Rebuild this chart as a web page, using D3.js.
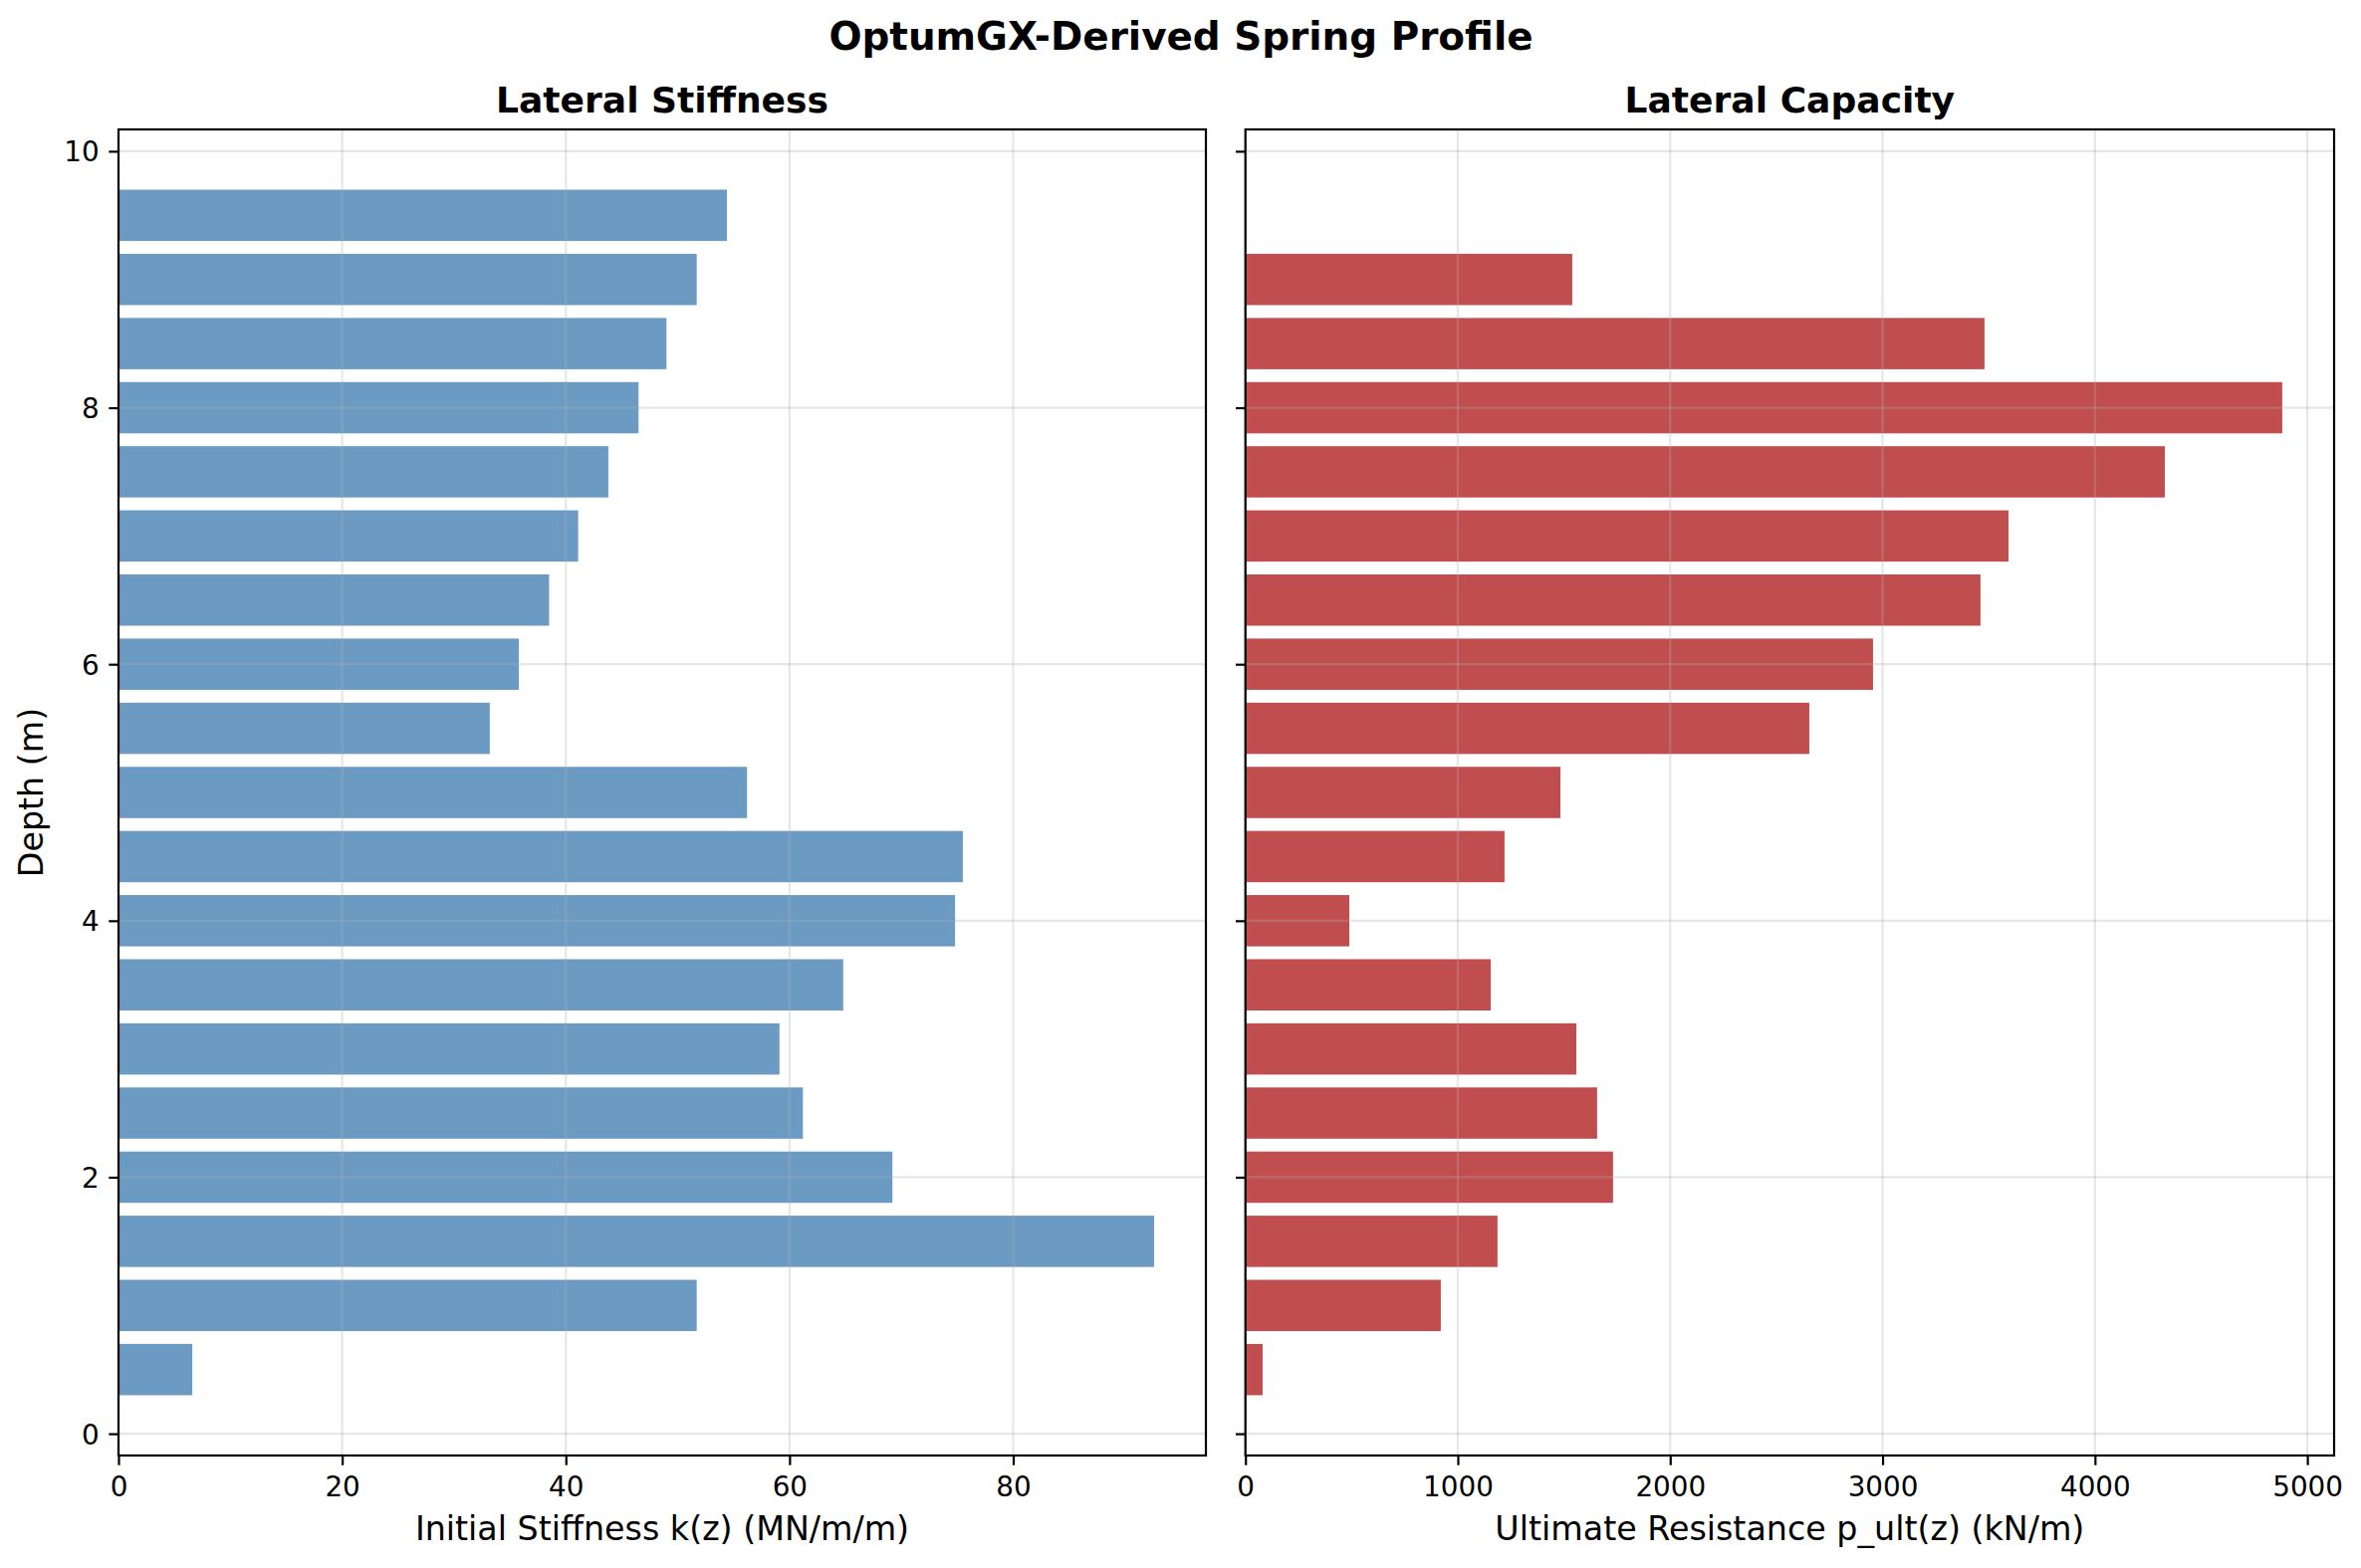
<!DOCTYPE html>
<html>
<head>
<meta charset="utf-8">
<script src="https://cdn.jsdelivr.net/npm/d3@7"></script>
<style>
  body { margin: 0; background: #fff; }
  svg text { font-family: "DejaVu Sans", sans-serif; fill: #000; }
</style>
</head>
<body>
<svg id="chart" width="2371" height="1575"></svg>
<script>
// depth of each spring (m)
var depths = [0.5, 1.0, 1.5, 2.0, 2.5, 3.0, 3.5, 4.0, 4.5, 5.0, 5.5, 6.0, 6.5, 7.0, 7.5, 8.0, 8.5, 9.0, 9.5];
// initial stiffness k(z) (MN/m/m)
var stiffness = [6.6, 51.7, 92.6, 69.2, 61.2, 59.1, 64.8, 74.8, 75.5, 56.2, 33.2, 35.8, 38.5, 41.1, 43.8, 46.5, 49.0, 51.7, 54.4];
// ultimate resistance p_ult(z) (kN/m)
var capacity = [81, 920, 1187, 1731, 1656, 1558, 1155, 489, 1220, 1483, 2655, 2955, 3461, 3593, 4329, 4882, 3480, 1539, 0];

var stiffTicks = [0, 20, 40, 60, 80];
var capTicks = [0, 1000, 2000, 3000, 4000, 5000];
var depthTicks = [0, 2, 4, 6, 8, 10];

var svg = d3.select("#chart");
var top_ = 130, bottom_ = 1462;
var barH = 0.4;

// shared depth scale, matplotlib style 5% margin around the bar extents
var yLo = d3.min(depths) - barH / 2, yHi = d3.max(depths) + barH / 2;
var pad = (yHi - yLo) * 0.05;
var y = d3.scaleLinear().domain([yLo - pad, yHi + pad]).range([bottom_, top_]);

svg.append("text")
    .attr("x", 1186).attr("y", 50)
    .attr("text-anchor", "middle")
    .style("font-size", "38.9px").style("font-weight", "bold")
    .text("OptumGX-Derived Spring Profile");

function panel(left, right, values, ticks, color, title, xlabel, showYLabels) {
    var x = d3.scaleLinear().domain([0, d3.max(values) * 1.05]).range([left, right]);
    var g = svg.append("g");

    g.selectAll("rect.bar").data(values).enter().append("rect")
        .attr("class", "bar")
        .attr("x", x(0))
        .attr("y", function(d, i) { return y(depths[i] + barH / 2); })
        .attr("width", function(d) { return x(d) - x(0); })
        .attr("height", function(d, i) { return y(depths[i] - barH / 2) - y(depths[i] + barH / 2); })
        .attr("fill", color).attr("fill-opacity", 0.8);

    // grid (drawn above the bars, like matplotlib)
    g.selectAll("line.gx").data(ticks).enter().append("line")
        .attr("x1", function(d) { return x(d); }).attr("x2", function(d) { return x(d); })
        .attr("y1", top_).attr("y2", bottom_)
        .attr("stroke", "#b0b0b0").attr("stroke-opacity", 0.3).attr("stroke-width", 2.2);
    g.selectAll("line.gy").data(depthTicks).enter().append("line")
        .attr("x1", left).attr("x2", right)
        .attr("y1", function(d) { return y(d); }).attr("y2", function(d) { return y(d); })
        .attr("stroke", "#b0b0b0").attr("stroke-opacity", 0.3).attr("stroke-width", 2.2);

    // x axis
    var xa = g.append("g").attr("transform", "translate(0," + bottom_ + ")")
        .call(d3.axisBottom(x).tickValues(ticks).tickSize(9.7).tickPadding(9.7).tickFormat(d3.format("d")));
    xa.select(".domain").remove();
    xa.selectAll("line").attr("stroke", "#000").attr("stroke-width", 2.2);
    xa.selectAll("text").style("font-size", "27.8px").attr("dy", "0.76em");

    // y axis
    var ya = g.append("g").attr("transform", "translate(" + left + ",0)")
        .call(d3.axisLeft(y).tickValues(depthTicks).tickSize(9.7).tickPadding(9.7)
            .tickFormat(showYLabels ? d3.format("d") : ""));
    ya.select(".domain").remove();
    ya.selectAll("line").attr("stroke", "#000").attr("stroke-width", 2.2);
    ya.selectAll("text").style("font-size", "27.8px").attr("dy", "0.36em");

    // frame
    g.append("rect")
        .attr("x", left).attr("y", top_)
        .attr("width", right - left).attr("height", bottom_ - top_)
        .attr("fill", "none").attr("stroke", "#000").attr("stroke-width", 2.2);

    g.append("text")
        .attr("x", (left + right) / 2).attr("y", top_ - 17)
        .attr("text-anchor", "middle")
        .style("font-size", "36.1px").style("font-weight", "bold")
        .text(title);

    g.append("text")
        .attr("x", (left + right) / 2).attr("y", 1547)
        .attr("text-anchor", "middle")
        .style("font-size", "33.3px")
        .text(xlabel);
}

panel(119, 1211, stiffness, stiffTicks, "#4682b4", "Lateral Stiffness", "Initial Stiffness k(z) (MN/m/m)", true);
panel(1250.7, 2344, capacity, capTicks, "#b22222", "Lateral Capacity", "Ultimate Resistance p_ult(z) (kN/m)", false);

svg.append("text")
    .attr("transform", "translate(43," + (top_ + bottom_) / 2 + ") rotate(-90)")
    .attr("text-anchor", "middle")
    .style("font-size", "33.3px")
    .text("Depth (m)");
</script>
</body>
</html>
